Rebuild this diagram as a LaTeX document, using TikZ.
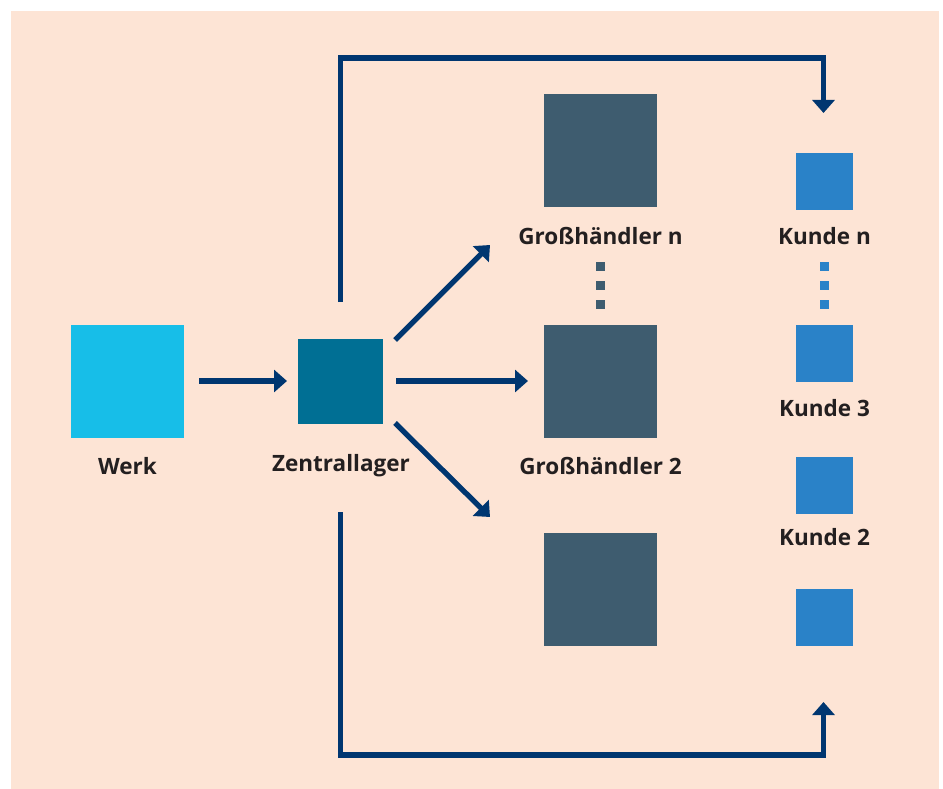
\documentclass[tikz,border=0pt]{standalone}
\usepackage{fontspec}
\setmainfont{Open Sans}
\usetikzlibrary{arrows.meta}
\definecolor{peach}{HTML}{FDE4D5}
\definecolor{werkc}{HTML}{17BEE8}
\definecolor{zentc}{HTML}{006F94}
\definecolor{grossc}{HTML}{3E5C6F}
\definecolor{kundec}{HTML}{2A82C8}
\definecolor{arrowc}{HTML}{003670}
\definecolor{txtc}{HTML}{231F20}
\tikzset{
  box/.style={draw=none,inner sep=0pt,outer sep=0pt,minimum size=#1},
  lbl/.style={text=txtc,font=\bfseries\fontsize{22.5}{26}\selectfont,inner sep=0pt},
  conn/.style={draw=arrowc,line width=5.3pt,-{Triangle[width=22pt,length=13pt]}},
  dotg/.style={fill=grossc,inner sep=0pt,minimum size=9pt},
  dotk/.style={fill=kundec,inner sep=0pt,minimum size=9pt}
}
\begin{document}
\begin{tikzpicture}[x=1pt,y=-1pt]
\useasboundingbox (0,0) rectangle (943,789);
\fill[white] (0,0) rectangle (943,789);
\fill[peach] (11,11) rectangle (939,789);
% boxes
\node[box=113pt,fill=werkc] (werk) at (127.5,381.5) {};
\node[box=85pt,fill=zentc] (zent) at (340.5,381.5) {};
\node[box=113pt,fill=grossc] (gn) at (600.5,150.5) {};
\node[box=113pt,fill=grossc] (g2) at (600.5,381.5) {};
\node[box=113pt,fill=grossc] (g1) at (600.5,589.5) {};
\node[box=57pt,fill=kundec] (kn) at (824.5,181.5) {};
\node[box=57pt,fill=kundec] (k3) at (824.5,353.5) {};
\node[box=57pt,fill=kundec] (k2) at (824.5,485.5) {};
\node[box=57pt,fill=kundec] (k1) at (824.5,617.5) {};
% labels
\node[lbl] (lwerk) at (127.5,466) {Werk};
\node[lbl] (lzent) at (341,466) {Zentrallager};
\node[lbl] (lgn) at (600.5,236) {Großhändler n};
\node[lbl] (lg2) at (600.5,466) {Großhändler 2};
\node[lbl] (lkn) at (824.5,236) {Kunde n};
\node[lbl] (lk3) at (824.5,408) {Kunde 3};
\node[lbl] (lk2) at (824.5,537) {Kunde 2};
% dots
\foreach \y/\i in {266.5/1,285.5/2,304.5/3}{
  \node[dotg] (dg\i) at (600.5,\y) {};
  \node[dotk] (dk\i) at (824.5,\y) {};
}
% connector coordinates
\coordinate (wz0) at (199,381);
\coordinate (wz1) at (287,381);
\coordinate (zm0) at (396,381);
\coordinate (zm1) at (528,381);
\coordinate (zu0) at (395,340);
\coordinate (zu1) at (490,245);
\coordinate (zd0) at (395,423);
\coordinate (zd1) at (490,517);
\coordinate (top0) at (340.5,302);
\coordinate (topa) at (340.5,58);
\coordinate (topb) at (823.5,58);
\coordinate (top1) at (823.5,113);
\coordinate (bot0) at (340.5,512);
\coordinate (bota) at (340.5,755);
\coordinate (botb) at (823.5,755);
\coordinate (bot1) at (823.5,702);
% connectors
\draw[conn] (wz0) -- (wz1);
\draw[conn] (zm0) -- (zm1);
\draw[conn] (zu0) -- (zu1);
\draw[conn] (zd0) -- (zd1);
\draw[conn,line join=miter] (top0) -- (topa) -- (topb) -- (top1);
\draw[conn,line join=miter] (bot0) -- (bota) -- (botb) -- (bot1);
\end{tikzpicture}
\end{document}
